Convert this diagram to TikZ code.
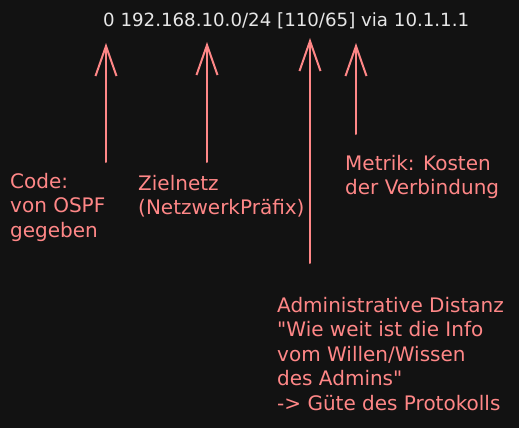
\documentclass[tikz,border=0pt]{standalone}
\usepackage{fontspec}
\newfontfamily\lbfont{DejaVu Sans}
\usetikzlibrary{arrows.meta}
\definecolor{bg}{HTML}{121212}
\definecolor{rosa}{HTML}{FF8787}
\definecolor{hell}{HTML}{E6E6E6}
\begin{document}
\begin{tikzpicture}[x=1pt,y=-1pt,
  lbl/.style={text=rosa, font=\lbfont\fontsize{20}{24.5}\selectfont, align=left, inner sep=0pt, anchor=base west},
  pfeil/.style={draw=rosa, line width=2pt, line cap=round, -{Straight Barb[length=30pt,width=21pt,line width=2pt]}}]
\fill[bg] (0,0) rectangle (519,428);
\useasboundingbox (0,0) rectangle (519,428);
\node[text=hell, font=\lbfont\fontsize{18.2}{22}\selectfont, inner sep=0pt, anchor=base west] (route) at (103,27) {0 192.168.10.0/24 [110/65] via 10.1.1.1};
\coordinate (t1) at (106,43);  \coordinate (s1) at (106,162);
\coordinate (t2) at (207,42);  \coordinate (s2) at (207,162);
\coordinate (t3) at (310,38);  \coordinate (s3) at (310,263);
\coordinate (t4) at (356,43);  \coordinate (s4) at (356,134);
\draw[pfeil] (s1) -- (t1);
\draw[pfeil] (s2) -- (t2);
\draw[pfeil] (s3) -- (t3);
\draw[pfeil] (s4) -- (t4);
% base anchor of a multi-line node sits on its last line
\node[lbl] (code) at (10,237) {Code:\\von OSPF\\gegeben};
\node[lbl] (ziel) at (138,214.5) {Zielnetz\\(NetzwerkPräfix)};
\node[lbl] (metrik) at (345,194.5) {Metrik: Kosten\\der Verbindung};
\node[lbl] (admin) at (277,410) {Administrative Distanz\\"Wie weit ist die Info\\vom Willen/Wissen\\des Admins"\\-> Güte des Protokolls};
\end{tikzpicture}
\end{document}
